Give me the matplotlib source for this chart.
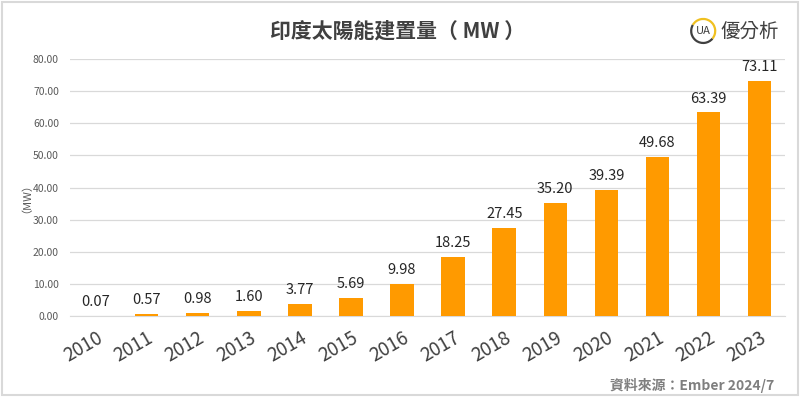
import matplotlib
matplotlib.use("Agg")
import matplotlib.pyplot as plt
from matplotlib.patches import Rectangle, Arc

# ===== データ =====
years = ["2010", "2011", "2012", "2013", "2014", "2015", "2016",
         "2017", "2018", "2019", "2020", "2021", "2022", "2023"]
capacity = [0.07, 0.57, 0.98, 1.60, 3.77, 5.69, 9.98,
            18.25, 27.45, 35.20, 39.39, 49.68, 63.39, 73.11]
yticks = [0, 10, 20, 30, 40, 50, 60, 70, 80]

title = "印度太陽能建置量（ MW ）"
ylabel = "（MW）"
source = "資料來源：Ember 2024/7"

plt.rcParams['font.family'] = ['Noto Sans CJK TC', 'DejaVu Sans']

fig = plt.figure(figsize=(8, 3.97), dpi=100)
ax = fig.add_axes([0.0875, 0.204, 0.894, 0.647])

x = range(len(years))
ax.bar(x, capacity, width=0.46, color='#FF9A00', zorder=3)

# 棒の上に数値
for xi, v in zip(x, capacity):
    ax.annotate(f"{v:.2f}", (xi, v), xytext=(0, 5), textcoords='offset points',
                ha='center', va='bottom', fontsize=10.5, color='#262626')

ax.set_xlim(-0.5, len(years) - 0.5)
ax.set_ylim(0, 80)
ax.set_yticks(yticks)
ax.set_yticklabels([f"{t:.2f}" for t in yticks], fontsize=7.5, color='#595959')
ax.set_xticks(list(x))
ax.set_xticklabels(years, rotation=30, ha='right', rotation_mode='anchor',
                   fontsize=13.5, color='#404040')
ax.tick_params(axis='both', length=0)
ax.tick_params(axis='y', pad=8)
ax.tick_params(axis='x', pad=8)

ax.grid(axis='y', color='#d9d9d9', linewidth=0.9, zorder=0)
for s in ['top', 'right', 'left']:
    ax.spines[s].set_visible(False)
ax.spines['bottom'].set_color('#d9d9d9')

fig.text(0.026, 0.515, ylabel, rotation=90, ha='center', va='center',
         fontsize=8, color='#595959')

fig.text(0.497, 0.922, title, ha='center', va='center', fontsize=15,
         fontweight='bold', color='#404040')

# ロゴ
fig.text(0.974, 0.922, "優分析", ha='right', va='center', fontsize=14,
         color='#404040')
lax = fig.add_axes([0.861, 0.86, 0.036, 0.124])
lax.set_aspect('equal')
lax.add_patch(Arc((0, 0), 2, 2, theta1=-40, theta2=150, color='#F0C020', lw=1.6))
lax.add_patch(Arc((0, 0), 2, 2, theta1=150, theta2=320, color='#404040', lw=1.6))
lax.text(0, 0, "UA", ha='center', va='center', fontsize=8, color='#404040')
lax.set_xlim(-1.2, 1.2)
lax.set_ylim(-1.2, 1.2)
lax.axis('off')

fig.text(0.968, 0.03, source, ha='right', va='center', fontsize=10,
         fontweight='bold', color='#7f7f7f')

# 枠線
fig.add_artist(Rectangle((0.003, 0.005), 0.994, 0.99, transform=fig.transFigure,
                         fill=False, edgecolor='#d9d9d9', linewidth=1.5))

fig.savefig("out.png", dpi=100)
